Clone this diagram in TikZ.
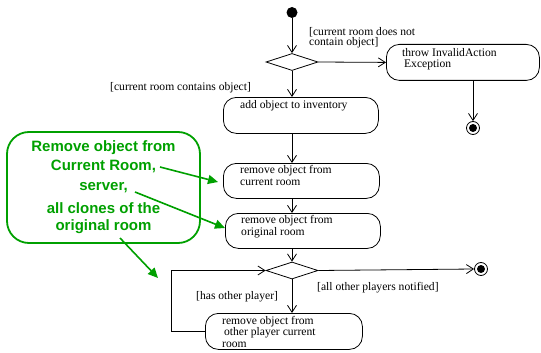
\documentclass[tikz,border=0pt]{standalone}
\usepackage{fontspec}
\setmainfont{Liberation Serif}
\newfontfamily\calloutfont{Liberation Sans}
\usetikzlibrary{arrows.meta,shapes.geometric}
\definecolor{notegreen}{RGB}{0,160,0}

\begin{document}
\begin{tikzpicture}[x=1pt,y=-1pt,
  every node/.style={inner sep=0pt},
  flow/.style={draw=black, line width=0.8pt, -{Straight Barb[length=7pt,width=9pt,line width=0.8pt]}},
  act/.style={draw=black, line width=0.8pt, rounded corners=13pt, anchor=north west},
  % multi-line texts are placed by the baseline of their last line
  acttext/.style={anchor=base west, align=left, font=\fontsize{11.6}{11.5}\selectfont},
  guard/.style={anchor=base west, align=left, font=\fontsize{11.6}{10}\selectfont},
  decision/.style={draw=black, line width=0.8pt, diamond, aspect=3, minimum width=52pt, minimum height=17pt},
  initial/.style={circle, fill=black, minimum size=11pt},
  final/.style={circle, draw=black, line width=0.8pt, minimum size=13pt,
    path picture={\fill[black] (path picture bounding box.center) circle (4pt);}},
  note/.style={draw=notegreen, line width=1.8pt, rounded corners=22pt, text=notegreen,
    align=center, font=\calloutfont\bfseries\fontsize{15}{19}\selectfont},
  notearrow/.style={draw=notegreen, line width=1.6pt, -{Triangle[length=10pt,width=9pt]}}
]
\useasboundingbox (0,0) rectangle (541,353);

% control nodes
\node[initial] (start) at (292,12.5) {};
\node[decision] (d1) at (292,62) {};
\node[decision] (d2) at (292,270.5) {};
\node[final] (end1) at (473,128) {};
\node[final] (end2) at (481,269) {};

% activities
\node[act, minimum width=153pt, minimum height=36pt] (throw) at (386,44) {};
\node[acttext] at (402,67) {throw InvalidAction\\[-0.5pt]\,Exception};

\node[act, minimum width=155pt, minimum height=36pt] (add) at (223,97) {};
\node[acttext] at (240,109) {add object to inventory};

\node[act, minimum width=156pt, minimum height=35pt] (rm1) at (223,163) {};
\node[acttext] at (240,185) {remove object from\\current room};

\node[act, minimum width=155pt, minimum height=35pt] (rm2) at (225,213) {};
\node[acttext] at (241,235) {remove object from\\original room};

\node[act, minimum width=157pt, minimum height=36pt] (rm3) at (205,313) {};
\node[acttext] at (222,347) {remove object from\\\,other player current\\room};

% guards
\node[guard] at (309,46) {[current room does not\\contain object]};
\node[guard] at (110,91) {[current room contains object]};
\node[guard] at (317,290) {[all other players notified]};
\node[guard] at (196,299) {[has other player]};

% control flow
\draw[flow] (start) -- (d1.north);
\draw[flow] (d1.east) -- (throw.west);
\draw[flow] (d1.south) -- (d1.south |- add.north);
\draw[flow] (end1 |- throw.south) -- (end1.north);
\draw[flow] (d1.south |- add.south) -- (d1.south |- rm1.north);
\draw[flow] (d1.south |- rm1.south) -- (d1.south |- rm2.north);
\draw[flow] (d1.south |- rm2.south) -- (d2.north);
\draw[flow] (d2.east) -- (end2.west);
\draw[flow] (d2.south) -- (d2.south |- rm3.north);
\draw[flow] (rm3.west) -- ++(-34,0) |- (d2.west);

% explanatory note
\node[note, minimum width=193pt, minimum height=111pt] (note) at (103.5,187.5)
  {Remove object from\\Current Room,\\[1pt]server,\\[4pt]all clones of the\\[-2pt]original room};
\coordinate (n1) at (160,167);
\coordinate (n2) at (135,192);
\coordinate (n3) at (120,238);
\coordinate (t1) at (218,182);
\coordinate (t2) at (225,228);
\coordinate (t3) at (158,278);
\draw[notearrow] (n1) -- (t1);
\draw[notearrow] (n2) -- (t2);
\draw[notearrow] (n3) -- (t3);
\end{tikzpicture}
\end{document}
